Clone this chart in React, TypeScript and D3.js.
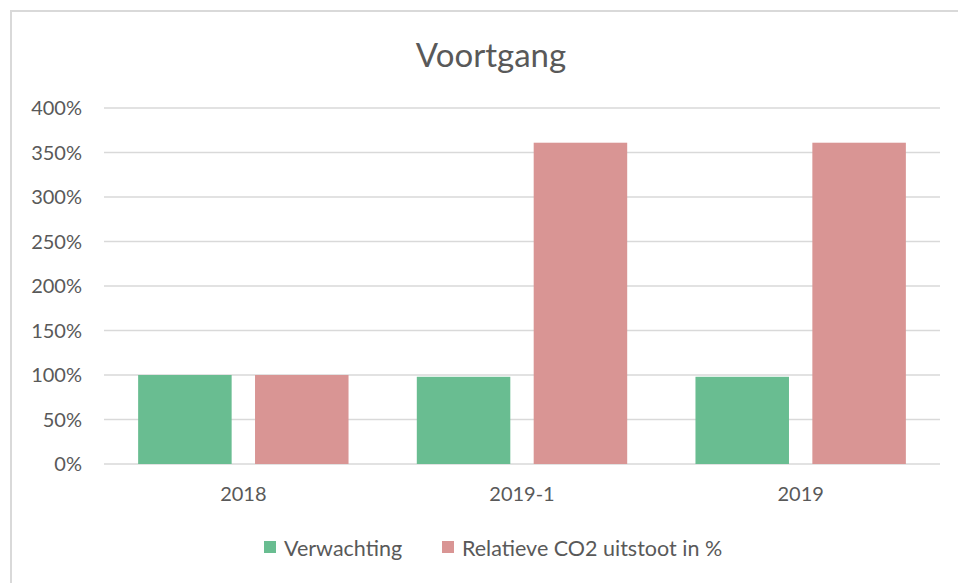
import React, {useEffect, useRef} from 'react';
import * as d3 from 'd3';

const categories = ['2018', '2019-1', '2019'];
const verwachting = [100, 98, 98];
const relatieveCO2 = [100, 361, 361];
const seriesNames = ['Verwachting', 'Relatieve CO2 uitstoot in %'];
const seriesColors = ['#69bd91', '#d99594'];
const yTicks = [0, 50, 100, 150, 200, 250, 300, 350, 400];

const App = () => {
    const ref = useRef<SVGSVGElement>(null);

    useEffect(() => {
        const svg = d3.select(ref.current);
        svg.selectAll('*').remove();

        const font = 'Lato, "Open Sans", sans-serif';
        const textColor = '#595959';
        const gridColor = '#d9d9d9';

        // chart frame (only top and left edges visible)
        svg.append('path')
            .attr('d', 'M11,583 V11 H958')
            .attr('fill', 'none')
            .attr('stroke', gridColor)
            .attr('stroke-width', 2);

        svg.append('text')
            .attr('x', 491)
            .attr('y', 67)
            .attr('text-anchor', 'middle')
            .attr('font-family', font)
            .attr('font-size', 33)
            .attr('fill', textColor)
            .text('Voortgang');

        const left = 104, right = 940, top = 108, bottom = 464;

        const y = d3.scaleLinear().domain([0, 400]).range([bottom, top]);
        const x0 = d3.scaleBand().domain(categories).range([left, right])
            .paddingInner(0.245).paddingOuter(0.1225);
        const x1 = d3.scaleBand().domain(seriesNames).range([0, x0.bandwidth()]).paddingInner(0.2);

        const g = svg.append('g');

        g.selectAll('.grid')
            .data(yTicks)
            .enter().append('line')
            .attr('x1', left)
            .attr('x2', right)
            .attr('y1', d => y(d))
            .attr('y2', d => y(d))
            .attr('stroke', gridColor)
            .attr('stroke-width', 1.5);

        g.selectAll('.ytick')
            .data(yTicks)
            .enter().append('text')
            .attr('x', 82)
            .attr('y', d => y(d) + 7)
            .attr('text-anchor', 'end')
            .attr('font-family', font)
            .attr('font-size', 20)
            .attr('fill', textColor)
            .text(d => d + '%');

        const rows = categories.map((c, i) => ({cat: c, vals: [verwachting[i], relatieveCO2[i]]}));

        const groups = g.selectAll('.grp')
            .data(rows)
            .enter().append('g')
            .attr('transform', d => `translate(${x0(d.cat)},0)`);

        groups.selectAll('rect')
            .data(d => d.vals.map((v, i) => ({name: seriesNames[i], v, i})))
            .enter().append('rect')
            .attr('x', d => x1(d.name)!)
            .attr('width', x1.bandwidth())
            .attr('y', d => y(d.v))
            .attr('height', d => bottom - y(d.v))
            .attr('fill', d => seriesColors[d.i]);

        g.selectAll('.xlabel')
            .data(categories)
            .enter().append('text')
            .attr('x', d => x0(d)! + x0.bandwidth() / 2)
            .attr('y', 501)
            .attr('text-anchor', 'middle')
            .attr('font-family', font)
            .attr('font-size', 20)
            .attr('fill', textColor)
            .text(d => d);

        // legend
        const legendX = [264, 442];
        const legend = svg.selectAll('.legend')
            .data(seriesNames)
            .enter().append('g')
            .attr('transform', (d, i) => `translate(${legendX[i]},541)`);
        legend.append('rect')
            .attr('width', 12)
            .attr('height', 12)
            .attr('fill', (d, i) => seriesColors[i]);
        legend.append('text')
            .attr('x', 20)
            .attr('y', 15)
            .attr('font-family', font)
            .attr('font-size', 21.5)
            .attr('fill', textColor)
            .text(d => d);
    }, []);

    return (
        <svg ref={ref} width={958} height={583}
             style={{position: 'absolute', left: 0, top: 0, background: '#fff'}}/>
    );
};

export default App;
